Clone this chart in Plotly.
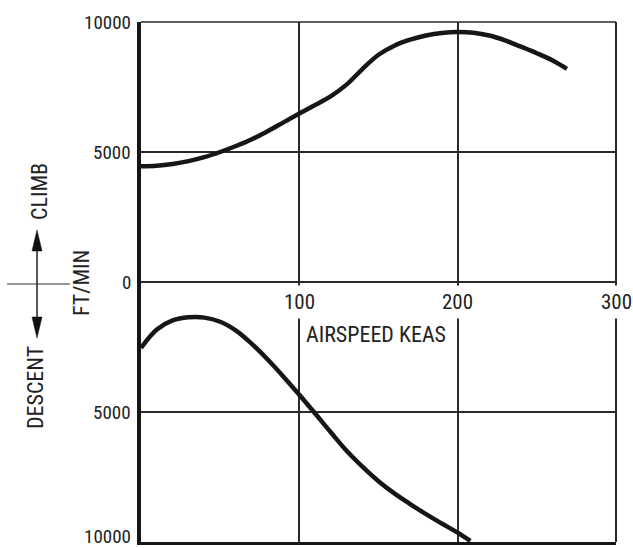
import plotly.graph_objects as go

# Rate of climb / descent vs. equivalent airspeed
climb_keas = [0, 10, 20, 30, 40, 50, 60, 70, 80, 90, 100, 110, 120, 130, 140,
              150, 160, 170, 180, 190, 200, 210, 220, 230, 240, 250, 260, 269]
climb_fpm = [4450, 4470, 4540, 4650, 4800, 5000, 5230, 5490, 5800, 6140, 6480,
             6810, 7150, 7600, 8200, 8740, 9090, 9320, 9480, 9580, 9620, 9590,
             9480, 9290, 9050, 8800, 8520, 8200]

descent_keas = [0, 10, 20, 30, 40, 50, 60, 70, 80, 90, 100, 110, 120, 130,
                140, 150, 160, 170, 180, 190, 200, 208]
descent_fpm = [-2540, -1830, -1480, -1360, -1370, -1530, -1870, -2380, -2980,
               -3640, -4340, -5060, -5790, -6500, -7110, -7660, -8130, -8540,
               -8930, -9290, -9640, -9960]

y_tick_vals = [-10000, -5000, 0, 5000, 10000]
y_tick_text = ["10000", "5000", "0", "5000", "10000"]
x_tick_vals = [100, 200, 300]
x_tick_text = ["100", "200", "300"]

W, H = 633, 548
L, R, T, B = 141, 17, 22, 6
PW, PH = W - L - R, H - T - B

FONT = "Roboto Condensed, Liberation Sans Narrow, DejaVu Sans Condensed, sans-serif"
INK = "#161616"
TXT = "#222222"


def px(x):
    return (x - L) / PW


def py(y):
    return (H - B - y) / PH


fig = go.Figure()
for xs, ys in ((climb_keas, climb_fpm), (descent_keas, descent_fpm)):
    fig.add_trace(go.Scatter(
        x=xs, y=ys, mode="lines",
        line=dict(color=INK, width=4.5, shape="spline", smoothing=1.0),
        hoverinfo="skip", showlegend=False))

shapes = [
    # top and right frame edges
    dict(type="line", xref="paper", yref="paper", x0=0, x1=1, y0=1, y1=1,
         line=dict(color="#2a2a2a", width=1.5)),
    dict(type="line", xref="paper", yref="paper", x0=1, x1=1, y0=0, y1=1,
         line=dict(color="#2a2a2a", width=2)),
    # climb / descent indicator: cross bar and shaft
    dict(type="line", xref="paper", yref="paper", x0=px(7), x1=px(70),
         y0=py(284), y1=py(284), line=dict(color="#333", width=1.2)),
    dict(type="line", xref="paper", yref="paper", x0=px(37), x1=px(37),
         y0=py(248), y1=py(320), line=dict(color="#222", width=1.5)),
    # arrow heads
    dict(type="path", xref="paper", yref="paper",
         path=f"M {px(37)},{py(230)} L {px(32)},{py(251)} L {px(42)},{py(251)} Z",
         fillcolor="#111", line=dict(color="#111", width=0.5)),
    dict(type="path", xref="paper", yref="paper",
         path=f"M {px(37)},{py(338)} L {px(32)},{py(317)} L {px(42)},{py(317)} Z",
         fillcolor="#111", line=dict(color="#111", width=0.5)),
]

annotations = []
# airspeed labels sit just under the zero line, blanking the grid behind them
for v, t in zip(x_tick_vals, x_tick_text):
    annotations.append(dict(
        x=v, y=0, xref="x", yref="y", text=t, showarrow=False,
        xanchor="center", yanchor="top", yshift=-3, bgcolor="white",
        borderpad=4, font=dict(family=FONT, size=21, color=TXT)))

# rate labels left of the axis; the lowest one is nudged up to stay on the page
for v, t in zip(y_tick_vals, y_tick_text):
    annotations.append(dict(
        x=0, y=v, xref="x", yref="y", text=t, showarrow=False,
        xanchor="right", yanchor="middle", xshift=-8,
        yshift=6 if v == min(y_tick_vals) else 0,
        font=dict(family=FONT, size=19, color=TXT)))

annotations.append(dict(
    x=148.5, y=0, xref="x", yref="y", text="AIRSPEED KEAS", showarrow=False,
    xanchor="center", yanchor="middle", yshift=-52,
    font=dict(family=FONT, size=22, color=TXT)))

for text, cx, cy in (("CLIMB", 40, 192), ("DESCENT", 36, 388), ("FT/MIN", 81, 283)):
    annotations.append(dict(
        x=px(cx), y=py(cy), xref="paper", yref="paper", text=text,
        showarrow=False, textangle=-90, xanchor="center", yanchor="middle",
        font=dict(family=FONT, size=22, color=TXT)))

fig.update_layout(
    width=W, height=H, autosize=False,
    margin=dict(l=L, r=R, t=T, b=B, pad=0, autoexpand=False),
    paper_bgcolor="white", plot_bgcolor="white",
    xaxis=dict(range=[0, 300], tickvals=x_tick_vals[:2], showticklabels=False,
               ticks="", showgrid=True, gridcolor="#2a2a2a", gridwidth=1.5,
               zeroline=False, showline=True, linecolor=INK, linewidth=2.5,
               automargin=False, fixedrange=True),
    yaxis=dict(range=[-10000, 10000], tickvals=y_tick_vals, showticklabels=False,
               ticks="", showgrid=True, gridcolor="#2a2a2a", gridwidth=1.5,
               zeroline=True, zerolinecolor="#2a2a2a", zerolinewidth=1.5,
               showline=True, linecolor=INK, linewidth=3.5, automargin=False,
               fixedrange=True),
    shapes=shapes,
    annotations=annotations,
)

fig.write_html("out.html")
